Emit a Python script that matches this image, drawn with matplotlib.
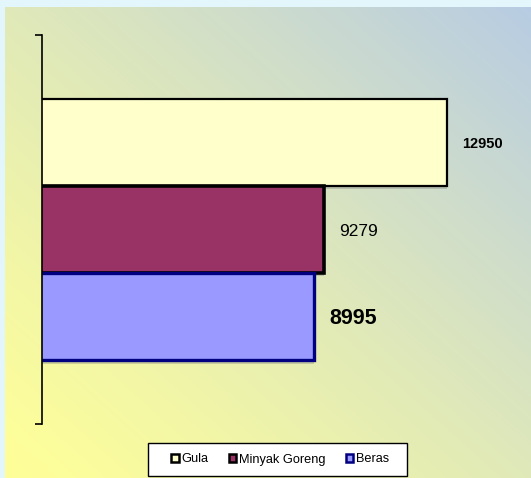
import matplotlib
matplotlib.use("Agg")
import matplotlib.pyplot as plt
import numpy as np
from matplotlib.patches import Patch, Rectangle

plt.rcParams["font.family"] = ["Liberation Sans", "DejaVu Sans"]

# data
series = ["Gula", "Minyak Goreng", "Beras"]
values = [12950, 9279, 8995]
value_labels = ["12950", "9279", "8995"]

colors = ["#FFFFCC", "#993366", "#9999FF"]
edges = ["#000000", "#000000", "#000080"]
edge_w = [1.6, 2.6, 2.4]
label_style = [(10.5, "bold"), (12.5, "normal"), (15.5, "bold")]

fig = plt.figure(figsize=(5.31, 4.78), dpi=100)
fig.patch.set_facecolor("#E3F6FC")

# gradient background (yellow bottom-left -> blue top-right)
bg = fig.add_axes([5 / 531, 0, 526 / 531, 471 / 478], zorder=0)
xx, yy = np.meshgrid(np.linspace(0, 1, 300), np.linspace(0, 1, 300))
t = (xx + yy) / 2
t = t ** 1.2
c0 = np.array([1.0, 1.0, 0.6])
c1 = np.array([0.72, 0.80, 0.89])
img = c0[None, None, :] * (1 - t[..., None]) + c1[None, None, :] * t[..., None]
bg.imshow(img, aspect="auto", origin="lower", extent=[0, 1, 0, 1])
bg.axis("off")

ax = fig.add_axes([42 / 531, 54 / 478, 478 / 531, 389 / 478], zorder=1)
ax.patch.set_alpha(0)

ypos = np.arange(len(series))[::-1]
for y, v, c, e, w in zip(ypos, values, colors, edges, edge_w):
    # shadow
    ax.barh(y - 0.04, v, height=1.0, left=0, color="#808080", alpha=0.35,
            linewidth=0, zorder=1)
    ax.barh(y, v, height=1.0, left=0, color=c, edgecolor=e, linewidth=w, zorder=2)

for y, v, lab, (fs, fw) in zip(ypos, values, value_labels, label_style):
    ax.text(v + 450, y - 0.02, lab, fontsize=fs, fontweight=fw,
            va="center", ha="left", color="#000000")

ax.set_xlim(900, 15120)
ax.set_ylim(-1.235, 3.235)
ax.set_yticks([-1.235, 3.235])
ax.set_yticklabels([])
ax.tick_params(axis="y", direction="out", length=5, width=1.2, color="#000000")
ax.set_xticks([])
for s in ["top", "right", "bottom"]:
    ax.spines[s].set_visible(False)
ax.spines["left"].set_linewidth(1.2)

# legend box
fig.patches.append(Rectangle((148 / 531, 2 / 478), 259 / 531, 33 / 478,
                             transform=fig.transFigure, facecolor="white",
                             edgecolor="#000000", linewidth=1.0, zorder=2))
handles = [Patch(facecolor=c, edgecolor=e, linewidth=1.8) for c, e in zip(colors, edges)]
leg = fig.legend(handles, series, loc="center",
                 bbox_to_anchor=(280 / 531, 18.5 / 478),
                 ncol=3, fontsize=9.2, frameon=False,
                 handlelength=0.6, handleheight=0.6, handletextpad=0.2,
                 columnspacing=1.6, borderpad=0, borderaxespad=0)
leg.set_zorder(3)

fig.savefig("out.png", dpi=100)
